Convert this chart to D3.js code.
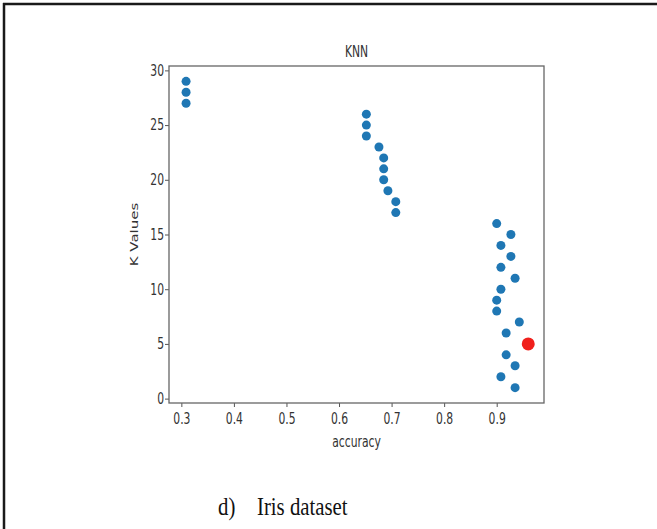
<!DOCTYPE html>
<html>
<head>
<meta charset="utf-8">
<script src="https://cdn.jsdelivr.net/npm/d3@7"></script>
<style>
  body { margin: 0; background: #fff; }
  .mpl { font-family: "DejaVu Sans", sans-serif; fill: #333; }
  .caption { font-family: "Liberation Serif", "Times New Roman", serif; fill: #111; }
</style>
</head>
<body>
<div id="chart"></div>
<script>
// Datos (K frente a accuracy)
const kValues = [1, 2, 3, 4, 5, 6, 7, 8, 9, 10, 11, 12, 13, 14, 15,
  16, 17, 18, 19, 20, 21, 22, 23, 24, 25, 26, 27, 28, 29];
const accuracy = [0.935, 0.908, 0.935, 0.918, 0.960, 0.918, 0.943, 0.900, 0.900, 0.908,
  0.935, 0.908, 0.927, 0.908, 0.927, 0.900, 0.708, 0.708, 0.693, 0.685,
  0.685, 0.685, 0.676, 0.652, 0.652, 0.652, 0.309, 0.309, 0.309];
const bestK = 5;
const xTicks = [0.3, 0.4, 0.5, 0.6, 0.7, 0.8, 0.9];
const yTicks = [0, 5, 10, 15, 20, 25, 30];

const W = 657, H = 529;
const plot = { left: 169, right: 544, top: 66, bottom: 403 };
const SX = 0.72; // la imagen original esta comprimida en horizontal
const FS = 15;

const svg = d3.select('#chart').append('svg')
  .attr('width', W).attr('height', H);

// Marco exterior de la figura (solo arriba e izquierda)
svg.append('line').attr('x1', 3).attr('x2', W).attr('y1', 4).attr('y2', 4)
  .attr('stroke', '#1a1a1a').attr('stroke-width', 2.5);
svg.append('line').attr('x1', 4).attr('x2', 4).attr('y1', 3).attr('y2', H)
  .attr('stroke', '#1a1a1a').attr('stroke-width', 2.5);

let x = d3.scaleLinear().domain([0.2765, 0.990]).range([plot.left, plot.right]);
let y = d3.scaleLinear().domain([-0.4, 30.4]).range([plot.bottom, plot.top]);

// Ejes
let xAxis = svg.append('g')
  .attr('transform', 'translate(0,' + plot.bottom + ')')
  .call(d3.axisBottom(x).tickValues(xTicks).tickSize(4).tickPadding(10).tickFormat(d3.format('.1f')));
let yAxis = svg.append('g')
  .attr('transform', 'translate(' + plot.left + ',0)')
  .call(d3.axisLeft(y).tickValues(yTicks).tickSize(4));

[xAxis, yAxis].forEach(function(g) {
  g.select('.domain').remove();
  g.selectAll('.tick line').attr('stroke', '#555');
  g.selectAll('.tick text').attr('class', 'mpl').attr('font-size', FS)
    .attr('transform', 'scale(' + SX + ',1)');
});
xAxis.selectAll('.tick text').attr('dy', '0.71em').attr('y', 10);
yAxis.selectAll('.tick text').attr('x', -5 / SX);

// Marco del grafico
svg.append('rect')
  .attr('x', plot.left).attr('y', plot.top)
  .attr('width', plot.right - plot.left).attr('height', plot.bottom - plot.top)
  .attr('fill', 'none').attr('stroke', '#666').attr('stroke-width', 1.3);

// Puntos
svg.append('g').selectAll('circle')
  .data(kValues)
  .enter()
  .append('circle')
  .attr('cx', function(d, i) { return x(accuracy[i]); })
  .attr('cy', function(d) { return y(d); })
  .attr('r', function(d) { return d === bestK ? 6.5 : 4.5; })
  .attr('fill', function(d) { return d === bestK ? '#f0201c' : '#1f77b4'; });

// Textos
svg.append('text').attr('class', 'mpl')
  .attr('transform', 'translate(' + ((plot.left + plot.right) / 2) + ',57) scale(' + SX + ',1)')
  .attr('text-anchor', 'middle').attr('font-size', FS).text('KNN');

svg.append('text').attr('class', 'mpl')
  .attr('transform', 'translate(' + ((plot.left + plot.right) / 2) + ',447) scale(' + SX + ',1)')
  .attr('text-anchor', 'middle').attr('font-size', FS).text('accuracy');

svg.append('text').attr('class', 'mpl')
  .attr('transform', 'translate(138,' + ((plot.top + plot.bottom) / 2) + ') rotate(-90) scale(1,' + SX + ')')
  .attr('text-anchor', 'middle').attr('font-size', FS).text('K Values');

// Pie de figura
let cap = svg.append('g').attr('transform', 'translate(218,515) scale(0.8,1)');
cap.append('text').attr('class', 'caption').attr('x', 0).attr('font-size', 26).text('d)');
cap.append('text').attr('class', 'caption').attr('x', (257 - 218) / 0.8).attr('font-size', 26).text('Iris dataset');
</script>
</body>
</html>
